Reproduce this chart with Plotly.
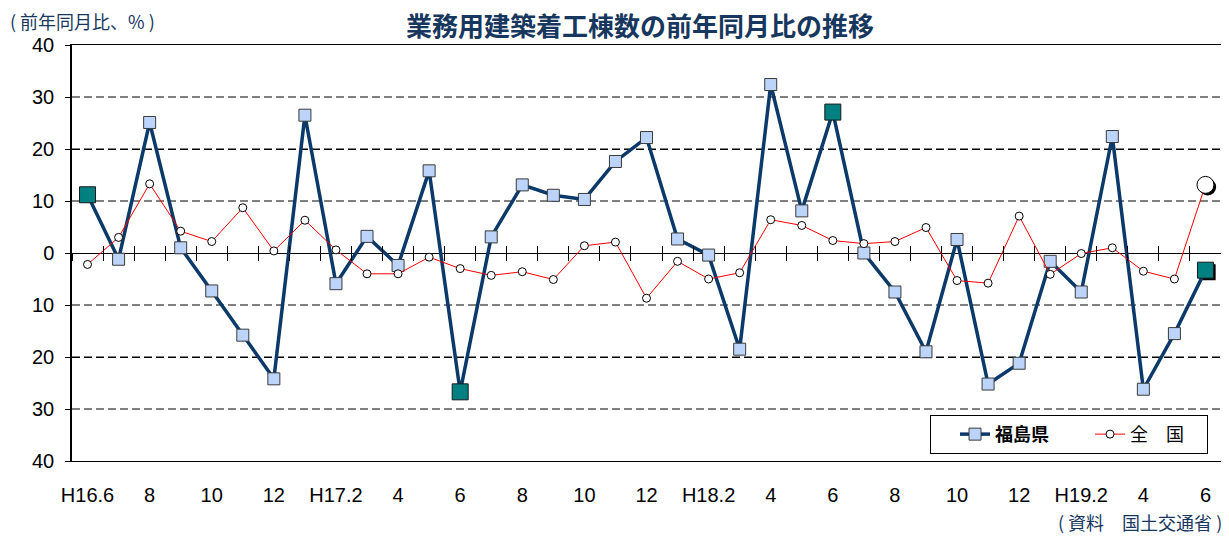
import plotly.graph_objects as go

# 月（H16.6〜H19.6）
months = ["H16.6", "H16.7", "H16.8", "H16.9", "H16.10", "H16.11", "H16.12",
          "H17.1", "H17.2", "H17.3", "H17.4", "H17.5", "H17.6", "H17.7", "H17.8",
          "H17.9", "H17.10", "H17.11", "H17.12",
          "H18.1", "H18.2", "H18.3", "H18.4", "H18.5", "H18.6", "H18.7", "H18.8",
          "H18.9", "H18.10", "H18.11", "H18.12",
          "H19.1", "H19.2", "H19.3", "H19.4", "H19.5", "H19.6"]

tick_labels = ["H16.6", "8", "10", "12", "H17.2", "4", "6", "8", "10", "12",
               "H18.2", "4", "6", "8", "10", "12", "H19.2", "4", "6"]

# 福島県（前年同月比、%）
fukushima = [11.2, -1.2, 25.1, 1.0, -7.3, -15.8, -24.2, 26.5, -5.9,
             3.2, -2.4, 15.8, -26.7, 3.1, 13.1, 11.1, 10.3, 17.6, 22.2,
             2.7, -0.4, -18.5, 32.4, 8.1, 27.1, 0.0, -7.5, -19.0,
             2.6, -25.2, -21.2, -1.6, -7.5, 22.4, -26.2, -15.5, -3.3]

# 全国（前年同月比、%）
zenkoku = [-2.2, 3.0, 13.3, 4.2, 2.2, 8.7, 0.4, 6.3, 0.6,
           -4.0, -4.0, -0.8, -3.0, -4.3, -3.6, -5.1, 1.4, 2.1, -8.7,
           -1.6, -5.0, -3.8, 6.4, 5.3, 2.4, 1.8, 2.2, 4.9,
           -5.3, -5.8, 7.1, -4.1, -0.1, 1.0, -3.5, -5.0, 13.1]

# 6月の点（強調表示）
june_idx = [0, 12, 24, 36]
last_idx = [36]

y_vals = [-40, -30, -20, -10, 0, 10, 20, 30, 40]
y_text = ["40", "30", "20", "10", "0", "10", "20", "30", "40"]

NAVY = "#0B3A6A"
TEXT_NAVY = "#17375E"
JP = "Noto Sans CJK JP"
EN = "Liberation Sans"

fig = go.Figure()

# 軸を描かせるための見えないトレース
fig.add_trace(go.Scatter(
    x=months, y=zenkoku, mode="markers", showlegend=False, hoverinfo="skip",
    marker=dict(opacity=0)
))

# 影（右下にずらした軸に描く）
fig.add_trace(go.Scatter(
    x=[months[i] for i in last_idx], y=[fukushima[i] for i in last_idx],
    mode="markers", xaxis="x2", yaxis="y2", showlegend=False, hoverinfo="skip",
    marker=dict(symbol="square", size=16, color="black")
))
fig.add_trace(go.Scatter(
    x=[months[i] for i in last_idx], y=[zenkoku[i] for i in last_idx],
    mode="markers", xaxis="x2", yaxis="y2", showlegend=False, hoverinfo="skip",
    marker=dict(symbol="circle", size=17, color="black")
))

# 福島県
fig.add_trace(go.Scatter(
    x=months, y=fukushima, mode="lines+markers", name="<b>福島県</b>　　",
    xaxis="x3", yaxis="y3",
    line=dict(color=NAVY, width=3.5),
    marker=dict(symbol="square", size=12, color="#BCD4FA",
                line=dict(color="#3A3A3A", width=1))
))

# 全国
fig.add_trace(go.Scatter(
    x=months, y=zenkoku, mode="lines+markers", name="全　国　",
    xaxis="x3", yaxis="y3",
    line=dict(color="#FF0000", width=1),
    marker=dict(symbol="circle", size=8, color="white",
                line=dict(color="black", width=1))
))

# 6月の強調マーカー
fig.add_trace(go.Scatter(
    x=[months[i] for i in june_idx], y=[fukushima[i] for i in june_idx],
    mode="markers", xaxis="x3", yaxis="y3", showlegend=False,
    marker=dict(symbol="square", size=16, color="#008080",
                line=dict(color="#1A1A1A", width=1))
))
fig.add_trace(go.Scatter(
    x=[months[i] for i in last_idx], y=[zenkoku[i] for i in last_idx],
    mode="markers", xaxis="x3", yaxis="y3", showlegend=False,
    marker=dict(symbol="circle", size=17, color="white",
                line=dict(color="black", width=1))
))

# ゼロ線の下向き目盛り用（見えないトレース）
fig.add_trace(go.Scatter(
    x=months, y=zenkoku, mode="markers", xaxis="x4", yaxis="y3",
    showlegend=False, hoverinfo="skip", marker=dict(opacity=0)
))

cat_range = [-0.5, len(months) - 0.5]

# ページ本体の余白(8px)を見込んで少し小さめに
fig.update_layout(
    width=1221, height=528,
    margin=dict(l=64, r=8, t=37, b=75),
    paper_bgcolor="white", plot_bgcolor="white",
    font=dict(family=EN, size=20, color="black"),
    showlegend=True,
    title=dict(text="<b>業務用建築着工棟数の前年同月比の推移</b>",
               font=dict(family=JP, size=26, color=TEXT_NAVY),
               xref="container", yref="container",
               x=0.5176, y=0.964, xanchor="center", yanchor="middle"),
    legend=dict(orientation="h", x=0.9887, xanchor="right", y=0.017, yanchor="bottom",
                bordercolor="black", borderwidth=1, bgcolor="white",
                font=dict(family=JP, size=18, color="black"),
                title=dict(text="　", side="left", font=dict(size=14)),
                tracegroupgap=0),
    xaxis=dict(type="category", categoryorder="array", categoryarray=months,
               range=cat_range, tickmode="array", tickvals=months[::2],
               ticktext=tick_labels, ticks="", ticklabelstandoff=16,
               showgrid=False, showline=True, linecolor="black", linewidth=1,
               mirror=True, zeroline=False),
    yaxis=dict(range=[-40, 40], tickmode="array", tickvals=y_vals, ticktext=y_text,
               ticks="outside", ticklen=5, tickcolor="black", ticklabelstandoff=7,
               showgrid=True, gridcolor="#808080", griddash="8px,4px", gridwidth=1.5,
               zeroline=True, zerolinecolor="black", zerolinewidth=1,
               showline=True, linecolor="black", linewidth=1.5, mirror=False),
    xaxis2=dict(type="category", categoryorder="array", categoryarray=months,
                overlaying="x", range=[cat_range[0] - 0.07, cat_range[1] - 0.07],
                visible=False),
    yaxis2=dict(overlaying="y", range=[-40 + 0.4, 40 + 0.4], visible=False),
    xaxis3=dict(type="category", categoryorder="array", categoryarray=months,
                overlaying="x", anchor="free", position=0.5, range=cat_range,
                tickson="boundaries", ticks="inside", ticklen=7, tickcolor="black",
                showticklabels=False, showgrid=False, showline=False, zeroline=False),
    yaxis3=dict(overlaying="y", range=[-40, 40], side="right", tickmode="array",
                tickvals=[-20, 20], ticks="", showticklabels=False,
                showgrid=True, gridcolor="black", griddash="8px,4px", gridwidth=1,
                zeroline=False, showline=True, linecolor="#808080", linewidth=2),
    xaxis4=dict(type="category", categoryorder="array", categoryarray=months,
                overlaying="x", anchor="free", position=0.5, range=cat_range,
                tickson="boundaries", ticks="outside", ticklen=7, tickcolor="black",
                showticklabels=False, showgrid=False, showline=False, zeroline=False),
)

fig.add_annotation(text="( 前年同月比、% )", xref="paper", yref="paper",
                   x=-0.056, y=1.057, xanchor="left", yanchor="middle",
                   showarrow=False, font=dict(family=JP, size=18, color=TEXT_NAVY))
fig.add_annotation(text="( 資料　国土交通省 )", xref="paper", yref="paper",
                   x=1.0026, y=-0.147, xanchor="right", yanchor="middle",
                   showarrow=False, font=dict(family=JP, size=18, color=TEXT_NAVY))

fig.write_html("out.html")
